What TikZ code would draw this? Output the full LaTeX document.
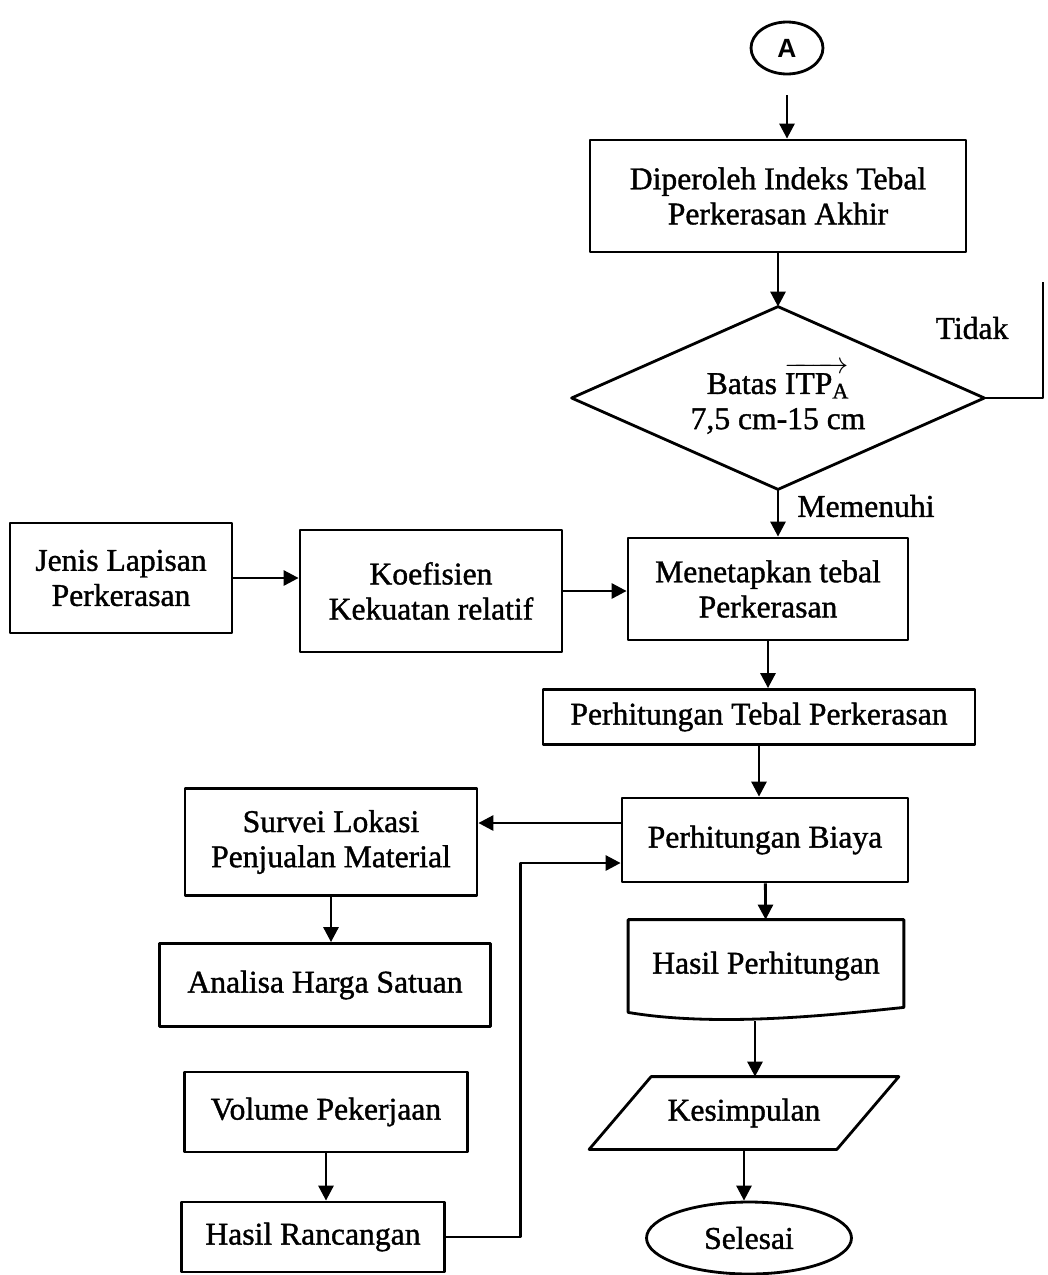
\documentclass[tikz,border=0pt]{standalone}
\usepackage{amsmath}
\usepackage{fontspec}
\setmainfont{Liberation Serif}[FakeBold=1.2]
\setsansfont{Liberation Sans}
\usetikzlibrary{shapes.geometric,arrows.meta,calc}

\begin{document}
\begin{tikzpicture}[x=0.02cm,y=-0.02cm,font=\fontsize{18}{20}\selectfont,
    line width=1.6pt,line join=round,>={Triangle[length=0.3cm,width=0.3cm]},
    kotak/.style={draw,rectangle,align=center,inner sep=0pt},
    ket/.style={inner sep=0pt,align=center}]
  \useasboundingbox (0,0) rectangle (1048,1275);

  % jalur utama
  \node[draw,ellipse,inner sep=0pt,minimum width=1.44cm,minimum height=1.04cm,
    font=\sffamily\bfseries\fontsize{15}{17}\selectfont] (A) at (787,48) {A};
  \node[kotak,minimum width=7.52cm,minimum height=2.24cm] (diperoleh) at (778,196)
    {Diperoleh Indeks Tebal\\Perkerasan Akhir};
  \node[ket,minimum width=8.2cm,minimum height=3.6cm] (batas) at (778,398)
    {Batas $\overrightarrow{\text{ITP}_{\text{A}}}$\\7,5 cm-15 cm};
  \draw (batas.north) -- (batas.east) -- (batas.south) -- (batas.west) -- cycle;
  \node[kotak,minimum width=5.6cm,minimum height=2.04cm] (menetapkan) at (768,589)
    {Menetapkan tebal\\Perkerasan};
  \node[kotak,minimum width=8.64cm,minimum height=1.1cm] (tebal) at (759,717)
    {Perhitungan Tebal Perkerasan};
  \node[kotak,minimum width=5.72cm,minimum height=1.68cm] (biaya) at (765,840)
    {Perhitungan Biaya};

  % hasil perhitungan (dokumen)
  \node[ket,minimum width=5.46cm,minimum height=1.8cm] (hasil) at (766,966) {Hasil Perhitungan};
  \draw (hasil.south west) -- (hasil.north west) -- (hasil.north east)
    -- ($(hasil.south east)+(0,-5)$) .. controls (840,1014) and (720,1028) .. (hasil.south west) -- cycle;

  % kesimpulan (jajaran genjang)
  \node[ket,minimum width=4.9cm,minimum height=1.4cm] (kesimpulan) at (744,1113) {Kesimpulan};
  \draw ($(kesimpulan.north west)+(31,0)$) -- ($(kesimpulan.north east)+(31,0)$)
    -- ($(kesimpulan.south east)+(-31,0)$) -- ($(kesimpulan.south west)+(-31,0)$) -- cycle;

  \node[draw,ellipse,inner sep=0pt,minimum width=4.1cm,minimum height=1.44cm] (selesai) at (749,1238) {Selesai};

  % cabang kiri
  \node[kotak,minimum width=4.44cm,minimum height=2.2cm] (jenis) at (121,578)
    {Jenis Lapisan\\Perkerasan};
  \node[kotak,minimum width=5.24cm,minimum height=2.44cm] (koefisien) at (431,591)
    {Koefisien\\Kekuatan relatif};
  \node[kotak,minimum width=5.84cm,minimum height=2.14cm] (survei) at (331,842)
    {Survei Lokasi\\Penjualan Material};
  \node[kotak,minimum width=6.62cm,minimum height=1.66cm] (analisa) at (325,985)
    {Analisa Harga Satuan};
  \node[kotak,minimum width=5.66cm,minimum height=1.6cm] (volume) at (326,1112)
    {Volume Pekerjaan};
  \node[kotak,minimum width=5.26cm,minimum height=1.4cm] (rancangan) at (313,1237)
    {Hasil Rancangan};

  % keterangan
  \node[ket] (tidak) at (972,328) {Tidak};
  \node[ket] (memenuhi) at (866,506) {Memenuhi};

  \coordinate (ujung) at (1043,282);
  \coordinate (keluar) at ($(biaya.west)+(0,-17)$);
  \coordinate (masuk) at ($(biaya.west)+(0,23)$);
  \coordinate (bawah) at ($(hasil.south)+(-11,9)$);

  % panah
  \draw[->,shorten <=0.4cm] (A.south) -- (A.south |- diperoleh.north);
  \draw[->] (diperoleh) -- (batas.north);
  \draw (batas.east) -| (ujung);
  \draw[->] (batas.south) -- (batas.south |- menetapkan.north);
  \draw[->] (jenis.east) -- (jenis.east -| koefisien.west);
  \draw[->] (koefisien.east) -- (koefisien.east -| menetapkan.west);
  \draw[->] (menetapkan.south) -- (menetapkan.south |- tebal.north);
  \draw[->] (tebal.south) -- (tebal.south |- biaya.north);
  \draw[->] (keluar) -- (keluar -| survei.east);
  \draw[->] (survei.south) -- (survei.south |- analisa.north);
  \draw[->] (volume.south) -- (volume.south |- rancangan.north);
  \draw[->] (rancangan.east) -- ++(75,0) |- (masuk);
  \draw[->] (biaya) -- (hasil);
  \draw[->] (bawah) -- (bawah |- kesimpulan.north);
  \draw[->] (kesimpulan.south) -- (kesimpulan.south |- selesai.north);
\end{tikzpicture}
\end{document}
